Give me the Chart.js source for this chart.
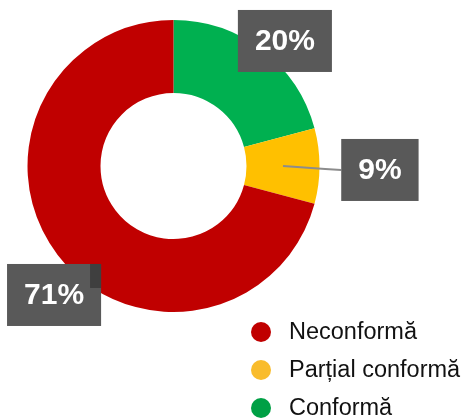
<!DOCTYPE html>
<html>
<head>
    <meta charset="utf-8">
    <title>Conformitate</title>
    <script src="https://cdn.jsdelivr.net/npm/chart.js@4.4.0/dist/chart.umd.min.js"></script>
    <style>
        body {
            margin: 0;
            background: #ffffff;
        }
        .chart-box {
            position: relative;
            width: 463px;
            height: 418px;
        }
    </style>
</head>
<body>
    <div class="chart-box">
        <canvas id="pieChart"></canvas>
    </div>

    <script>
        // Data, in legend order
        const categories = ['Neconformă', 'Parțial conformă', 'Conformă'];
        const counts = [17, 2, 5];
        const valueLabels = ['71%', '9%', '20%'];
        const sliceColors = ['#C00000', '#FFC000', '#00B050'];
        const dotColors = ['#C00000', '#F9BC2C', '#00A045'];

        // Where each value label sits, relative to its slice
        // (angle shift in degrees from the slice middle, distance as a share of the outer radius)
        const labelPlacement = [
            { shift: -9.7, dist: 1.204, leader: false },
            { shift: 1.1, dist: 1.414, leader: true },
            { shift: 4.2, dist: 1.147, leader: false }
        ];

        // The slices run counter-clockwise from the top, so feed them reversed
        const drawOrder = categories.map((_, i) => categories.length - 1 - i);

        const labelPlugin = {
            id: 'valueBoxes',
            afterDatasetsDraw(chart) {
                const ctx = chart.ctx;
                const arcs = chart.getDatasetMeta(0).data;
                ctx.save();
                ctx.font = 'bold 30px "Liberation Sans", Arial, sans-serif';
                ctx.textAlign = 'center';
                ctx.textBaseline = 'middle';

                drawOrder.forEach((catIdx, k) => {
                    const arc = arcs[k];
                    const p = arc.getProps(['x', 'y', 'startAngle', 'endAngle', 'innerRadius', 'outerRadius']);
                    const place = labelPlacement[catIdx];
                    const mid = (p.startAngle + p.endAngle) / 2;
                    const a = mid + place.shift * Math.PI / 180;
                    const cx = p.x + Math.cos(a) * p.outerRadius * place.dist;
                    const cy = p.y + Math.sin(a) * p.outerRadius * place.dist;

                    const text = valueLabels[catIdx];
                    const w = ctx.measureText(text).width + 34;
                    const h = 62;
                    const left = cx - w / 2;
                    const top = cy - h / 2;

                    if (place.leader) {
                        const rMid = (p.innerRadius + p.outerRadius) / 2;
                        ctx.strokeStyle = '#8C8C8C';
                        ctx.lineWidth = 2;
                        ctx.beginPath();
                        ctx.moveTo(p.x + Math.cos(mid) * rMid, p.y + Math.sin(mid) * rMid);
                        ctx.lineTo(left - 16, cy - 1);
                        ctx.lineTo(left, cy);
                        ctx.stroke();
                    }

                    ctx.fillStyle = '#595959';
                    ctx.fillRect(left, top, w, h);

                    // small darker notch on the big label
                    if (catIdx === 0) {
                        ctx.fillStyle = '#3F3F3F';
                        ctx.fillRect(left + w - 11, top, 11, 24);
                    }

                    ctx.fillStyle = '#FFFFFF';
                    ctx.fillText(text, cx, cy + 1);
                });

                // legend
                ctx.font = '23.5px "Liberation Sans", Arial, sans-serif';
                ctx.textAlign = 'left';
                categories.forEach((name, i) => {
                    const y = 332 + i * 38;
                    ctx.fillStyle = dotColors[i];
                    ctx.beginPath();
                    ctx.arc(261, y, 10, 0, Math.PI * 2);
                    ctx.fill();
                    ctx.fillStyle = '#111111';
                    ctx.fillText(name, 289, y + 1);
                });
                ctx.restore();
            }
        };

        const pieChart = new Chart(document.getElementById('pieChart'), {
            type: 'doughnut',
            data: {
                labels: drawOrder.map(i => categories[i]),
                datasets: [{
                    data: drawOrder.map(i => counts[i]),
                    backgroundColor: drawOrder.map(i => sliceColors[i]),
                    borderWidth: 0
                }]
            },
            options: {
                responsive: true,
                maintainAspectRatio: false,
                animation: false,
                cutout: '50%',
                layout: {
                    padding: { left: 27, right: 143, top: 20, bottom: 106 }
                },
                plugins: {
                    legend: { display: false },
                    tooltip: { enabled: false }
                }
            },
            plugins: [labelPlugin]
        });
    </script>
</body>
</html>
